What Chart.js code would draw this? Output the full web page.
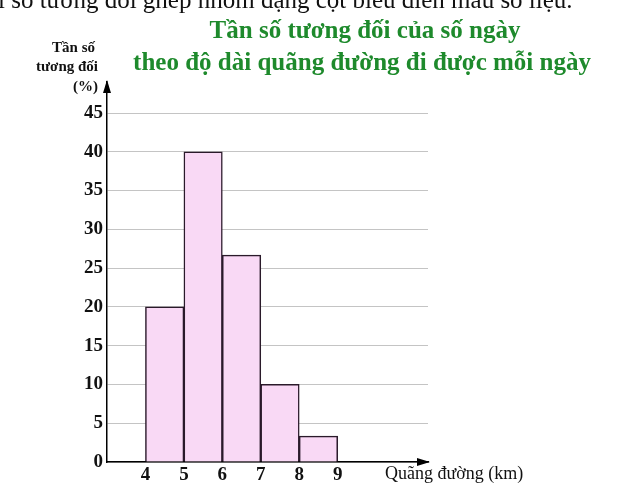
<!DOCTYPE html>
<html>
<head>
<meta charset="utf-8">
<script src="https://cdn.jsdelivr.net/npm/chart.js@4"></script>
<style>
  html, body { margin: 0; padding: 0; background: #fff; }
  #wrap { width: 631px; height: 488px; }
</style>
</head>
<body>
<div id="wrap"><canvas id="histChart" width="631" height="488"></canvas></div>
<script>
// nhóm quãng đường (km) và tần số tương đối (%)
const binStarts = [4, 5, 6, 7, 8];
const binEnds = [5, 6, 7, 8, 9];
const relFreq = [20, 40, 26.67, 10, 3.33];
const yTicks = [0, 5, 10, 15, 20, 25, 30, 35, 40, 45];
const xTicks = [4, 5, 6, 7, 8, 9];

const titleLines = ['Tần số tương đối của số ngày', 'theo độ dài quãng đường đi được mỗi ngày'];
const yTitleLines = ['Tần số', 'tương đối', '(%)'];
const xTitle = 'Quãng đường (km)';
const topText = 'i số tương đối ghép nhóm dạng cột biểu diễn mẫu số liệu.';

const serif = '"Liberation Serif", "DejaVu Serif", serif';

const extras = {
    id: 'extras',
    afterDraw(chart) {
        const ctx = chart.ctx;
        const area = chart.chartArea;
        ctx.save();

        // dòng chữ bị cắt ở trên cùng
        ctx.fillStyle = '#111';
        ctx.font = '25px ' + serif;
        ctx.textAlign = 'left';
        ctx.textBaseline = 'alphabetic';
        ctx.fillText(topText, -2, 8);

        // tiêu đề
        ctx.fillStyle = '#1e8a2c';
        ctx.font = 'bold 25px ' + serif;
        ctx.textAlign = 'center';
        ctx.fillText(titleLines[0], 365, 38);
        ctx.fillText(titleLines[1], 362, 70);

        // tên trục tung
        ctx.fillStyle = '#111';
        ctx.font = 'bold 15px ' + serif;
        ctx.textAlign = 'right';
        ctx.fillText(yTitleLines[0], 95, 52);
        ctx.fillText(yTitleLines[1], 98, 71);
        ctx.fillText(yTitleLines[2], 98, 91);

        // tên trục hoành
        ctx.font = '18px ' + serif;
        ctx.textAlign = 'left';
        ctx.fillText(xTitle, 385, 479);

        // mũi tên
        ctx.fillStyle = '#000';
        ctx.beginPath();
        ctx.moveTo(area.left, area.top - 2);
        ctx.lineTo(area.left - 4, area.top + 11);
        ctx.lineTo(area.left + 4, area.top + 11);
        ctx.closePath();
        ctx.fill();
        ctx.beginPath();
        ctx.moveTo(area.right + 2, area.bottom);
        ctx.lineTo(area.right - 11, area.bottom - 4);
        ctx.lineTo(area.right - 11, area.bottom + 4);
        ctx.closePath();
        ctx.fill();

        ctx.restore();
    }
};

const ctx = document.getElementById('histChart').getContext('2d');

new Chart(ctx, {
    type: 'bar',
    data: {
        datasets: [{
            data: relFreq.map((v, i) => ({ x: (binStarts[i] + binEnds[i]) / 2, y: v })),
            backgroundColor: '#f9d9f5',
            borderColor: '#2a1a2a',
            borderWidth: 1.5,
            borderSkipped: 'bottom',
            barPercentage: 1,
            categoryPercentage: 1
        }]
    },
    options: {
        responsive: false,
        animation: false,
        layout: { padding: { left: 0, right: 203, top: 82, bottom: 0 } },
        plugins: {
            legend: { display: false },
            tooltip: { enabled: false }
        },
        scales: {
            x: {
                type: 'linear',
                offset: false,
                min: 3,
                max: 11.35,
                afterBuildTicks: (scale) => { scale.ticks = xTicks.map(v => ({ value: v })); },
                afterFit: (scale) => { scale.height = 26; },
                grid: { display: false, drawTicks: false, offset: false },
                border: { color: '#000', width: 1.5 },
                ticks: {
                    padding: 2,
                    color: '#111',
                    font: { family: serif, size: 19, weight: 'bold' }
                }
            },
            y: {
                min: 0,
                max: 49,
                afterBuildTicks: (scale) => { scale.ticks = yTicks.map(v => ({ value: v })); },
                afterFit: (scale) => { scale.width = 107; },
                grid: { color: '#c4c4c4', lineWidth: 1, drawTicks: false },
                border: { color: '#000', width: 1.5 },
                ticks: {
                    padding: 4,
                    color: '#111',
                    font: { family: serif, size: 19, weight: 'bold' }
                }
            }
        }
    },
    plugins: [extras]
});
</script>
</body>
</html>
